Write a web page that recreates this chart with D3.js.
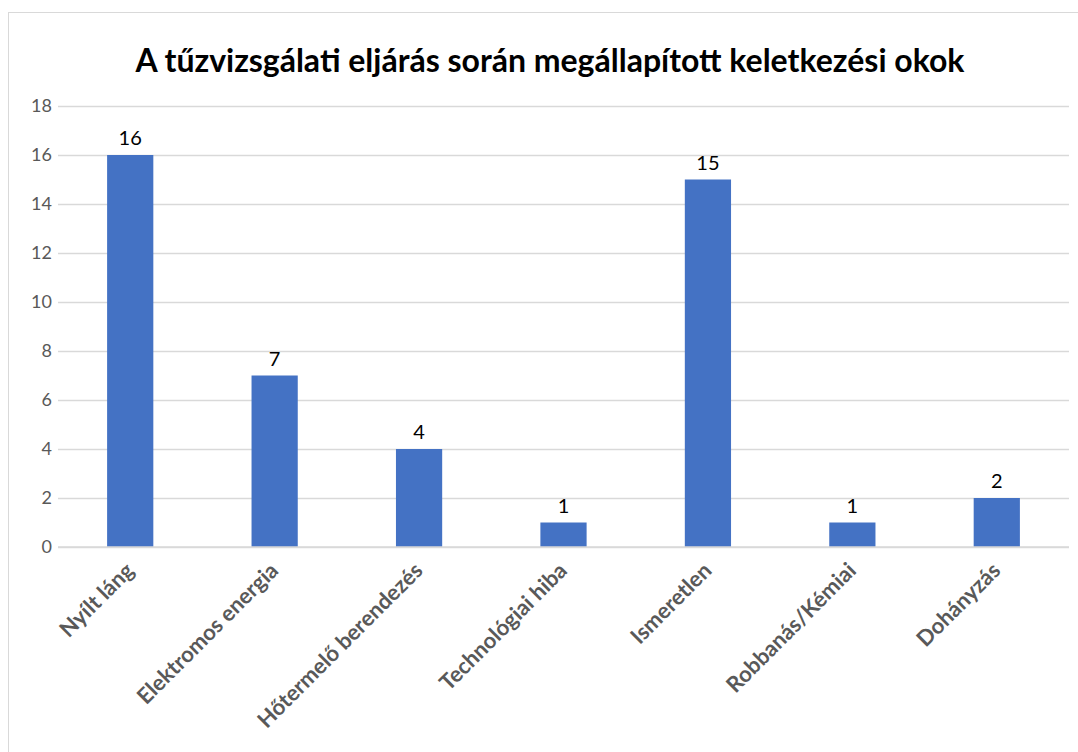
<!DOCTYPE html>
<html>
<head>
<meta charset="utf-8">
<script src="https://cdn.jsdelivr.net/npm/d3@7"></script>
<style>
  body { margin: 0; background: #fff; }
  svg { display: block; font-family: Lato, "Open Sans", sans-serif; }
</style>
</head>
<body>
<svg id="chart" width="1078" height="752"></svg>
<script>
// data
const categories = [
    "Nyílt láng",
    "Elektromos energia",
    "Hőtermelő berendezés",
    "Technológiai hiba",
    "Ismeretlen",
    "Robbanás/Kémiai",
    "Dohányzás",
];
const values = [16, 7, 4, 1, 15, 1, 2];
const yTicks = [0, 2, 4, 6, 8, 10, 12, 14, 16, 18];
const chartTitle = "A tűzvizsgálati eljárás során megállapított keletkezési okok";

const svg = d3.select("#chart");

const plot = { left: 58, right: 1069, top: 106, bottom: 547 };

// frame
svg.append("rect")
    .attr("x", 8.5)
    .attr("y", 12.5)
    .attr("width", 1100)
    .attr("height", 800)
    .attr("fill", "#fff")
    .attr("stroke", "#d9d9d9");

// title
svg.append("text")
    .attr("x", 550)
    .attr("y", 72)
    .attr("text-anchor", "middle")
    .attr("font-size", 32)
    .attr("font-weight", "bold")
    .attr("fill", "#000")
    .text(chartTitle);

const x = d3.scaleBand()
    .domain(categories)
    .range([plot.left, plot.right])
    .paddingInner(0.68)
    .paddingOuter(0.34);

const y = d3.scaleLinear()
    .domain([0, 18])
    .range([plot.bottom, plot.top]);

// gridlines + y labels
const yAxis = d3.axisLeft(y)
    .tickValues(yTicks)
    .tickSize(-(plot.right - plot.left))
    .tickPadding(6);

const gy = svg.append("g")
    .attr("transform", `translate(${plot.left},0)`)
    .call(yAxis);
gy.select(".domain").remove();
gy.selectAll(".tick line")
    .attr("stroke", "#d9d9d9")
    .attr("stroke-width", 1.5);
gy.selectAll(".tick text")
    .attr("fill", "#595959")
    .attr("font-size", 18)
    .attr("font-family", "Lato, sans-serif");

// bars
svg.append("g")
    .selectAll("rect")
    .data(values)
    .enter()
    .append("rect")
    .attr("x", (d, i) => x(categories[i]))
    .attr("y", (d) => y(d))
    .attr("width", x.bandwidth())
    .attr("height", (d) => y(0) - y(d))
    .attr("fill", "#4472c4");

// value labels
svg.append("g")
    .selectAll("text")
    .data(values)
    .enter()
    .append("text")
    .attr("x", (d, i) => x(categories[i]) + x.bandwidth() / 2)
    .attr("y", (d) => y(d) - 10)
    .attr("text-anchor", "middle")
    .attr("font-size", 20)
    .attr("fill", "#000")
    .text((d) => d);

// baseline
svg.append("line")
    .attr("x1", plot.left)
    .attr("x2", plot.right)
    .attr("y1", y(0))
    .attr("y2", y(0))
    .attr("stroke", "#d9d9d9")
    .attr("stroke-width", 1.5);

// x labels
const xAxis = d3.axisBottom(x).tickSize(0).tickPadding(0);
const gx = svg.append("g")
    .attr("transform", `translate(0,${plot.bottom})`)
    .call(xAxis);
gx.select(".domain").remove();
gx.selectAll(".tick text")
    .attr("fill", "#595959")
    .attr("font-size", 22)
    .attr("font-weight", "bold")
    .attr("font-family", "Lato, sans-serif")
    .attr("text-anchor", "end")
    .attr("dy", null)
    .attr("transform", "translate(5,25) rotate(-45)");
</script>
</body>
</html>
